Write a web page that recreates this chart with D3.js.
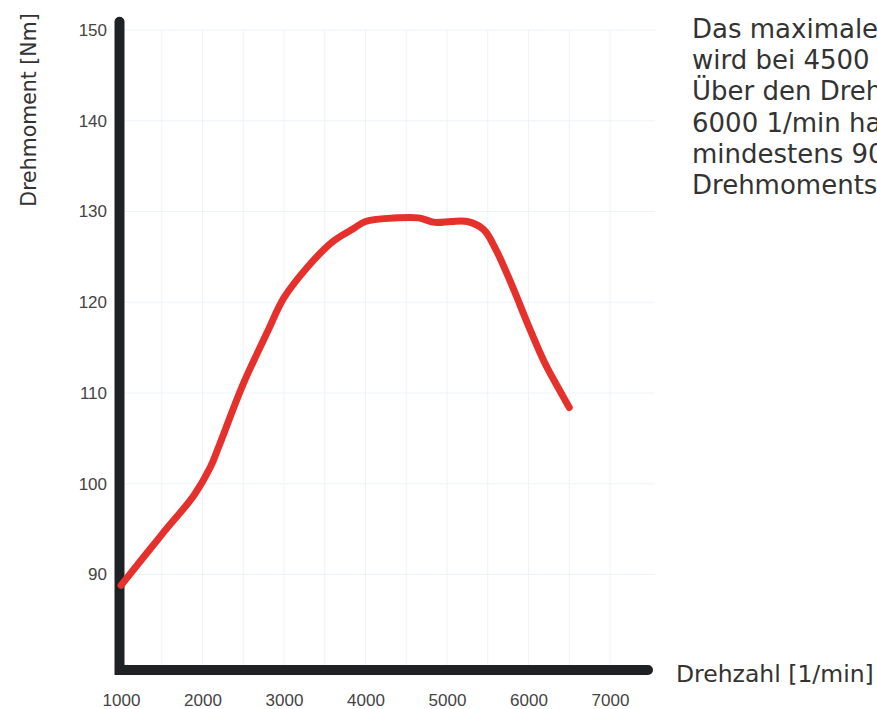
<!DOCTYPE html>
<html>
<head>
<meta charset="utf-8">
<script src="https://cdn.jsdelivr.net/npm/d3@7"></script>
<style>
  body { margin: 0; background: #fff; }
  svg { display: block; }
</style>
</head>
<body>
<div id="chart-area"></div>
<script>
// torque curve
var rpm    = [1000, 1500, 1900, 2100, 2200, 2500, 2800, 3000, 3300, 3600, 3850, 4000, 4400, 4650, 4850, 5050, 5250, 5450, 5600, 5800, 6000, 6200, 6400, 6500];
var torque = [88.8, 94.4, 98.8, 101.9, 104.1, 111.0, 116.8, 120.5, 124.0, 126.7, 128.1, 128.9, 129.3, 129.3, 128.8, 128.9, 128.9, 128.0, 125.8, 121.8, 117.4, 113.3, 110.0, 108.4];

var xTicks = [1000, 2000, 3000, 4000, 5000, 6000, 7000];
var yTicks = [90, 100, 110, 120, 130, 140, 150];

var noteLines = [
    "Das maximale",
    "wird bei 4500",
    "Über den Dreh",
    "6000 1/min ha",
    "mindestens 90",
    "Drehmoments"
];

var width = 877, height = 709;

var svg = d3.select("#chart-area").append("svg")
    .attr("width", width)
    .attr("height", height);

var xScale = d3.scaleLinear().domain([1000, 7000]).range([121, 610]);
var yScale = d3.scaleLinear().domain([90, 150]).range([574.5, 30]);

var axisX = 119.5, axisY = 670;

// faint grid of the printed paper
var grid = svg.append("g");
grid.selectAll("line.v")
    .data(d3.range(1500, 7001, 500))
    .enter().append("line")
    .attr("x1", function(d) { return xScale(d); })
    .attr("x2", function(d) { return xScale(d); })
    .attr("y1", yScale(150))
    .attr("y2", axisY - 5)
    .style("stroke", "#eef3fa")
    .style("stroke-width", 1);
grid.selectAll("line.h")
    .data(yTicks)
    .enter().append("line")
    .attr("x1", axisX + 5)
    .attr("x2", 655)
    .attr("y1", function(d) { return yScale(d); })
    .attr("y2", function(d) { return yScale(d); })
    .style("stroke", "#eef3fa")
    .style("stroke-width", 1);

// thick axes
svg.append("path")
    .attr("d", "M" + axisX + "," + yScale(150.9) + "V" + axisY + "H" + 648)
    .style("fill", "none")
    .style("stroke", "#1f2224")
    .style("stroke-width", 10)
    .style("stroke-linecap", "round")
    .style("stroke-linejoin", "miter");

// tick labels
var yAxis = d3.axisLeft(yScale).tickValues(yTicks).tickSize(0).tickPadding(12.5);
svg.append("g")
    .attr("transform", "translate(" + axisX + ",0)")
    .call(yAxis)
    .call(function(g) { g.select(".domain").remove(); })
    .selectAll("text")
    .style("font-family", "'Liberation Sans', Arial, sans-serif")
    .style("font-size", "17px")
    .style("fill", "#444");

var xAxis = d3.axisBottom(xScale).tickValues(xTicks).tickSize(0).tickPadding(0)
    .tickFormat(d3.format("d"));
svg.append("g")
    .attr("transform", "translate(0,693.5)")
    .call(xAxis)
    .call(function(g) { g.select(".domain").remove(); })
    .selectAll("text")
    .style("font-family", "'Liberation Sans', Arial, sans-serif")
    .style("font-size", "17px")
    .style("fill", "#444");

// axis titles
svg.append("text")
    .attr("transform", "translate(36,110) rotate(-90)")
    .attr("text-anchor", "middle")
    .style("font-family", "'DejaVu Sans', sans-serif")
    .style("font-size", "20.5px")
    .style("fill", "#333")
    .text("Drehmoment [Nm]");

svg.append("text")
    .attr("x", 676)
    .attr("y", 682)
    .style("font-family", "'DejaVu Sans', sans-serif")
    .style("font-size", "23.5px")
    .style("fill", "#333")
    .text("Drehzahl [1/min]");

// note text, cut off by the page edge as in the original
svg.append("g").selectAll("text")
    .data(noteLines)
    .enter().append("text")
    .attr("x", 692)
    .attr("y", function(d, i) { return 38 + i * 31.2; })
    .style("font-family", "'DejaVu Sans', sans-serif")
    .style("font-size", "26px")
    .style("fill", "#333")
    .text(function(d) { return d; });

// torque curve
var points = rpm.map(function(r, i) { return [r, torque[i]]; });
var line = d3.line()
    .x(function(d) { return xScale(d[0]); })
    .y(function(d) { return yScale(d[1]); })
    .curve(d3.curveCatmullRom.alpha(0.5));

svg.append("path")
    .datum(points)
    .attr("d", line)
    .style("fill", "none")
    .style("stroke", "#e5302b")
    .style("stroke-width", 7)
    .style("stroke-linecap", "round")
    .style("stroke-linejoin", "round");
</script>
</body>
</html>
